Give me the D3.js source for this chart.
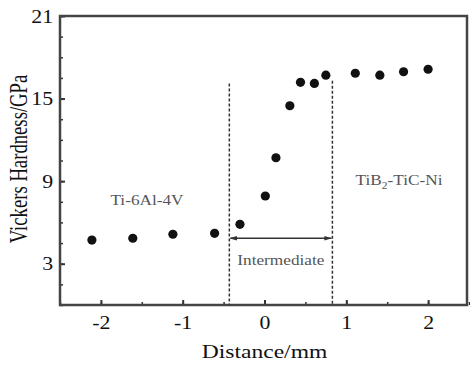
<!DOCTYPE html>
<html>
<head>
<meta charset="utf-8">
<script src="https://cdn.jsdelivr.net/npm/d3@7"></script>
<style>
  body { margin: 0; background: #fff; }
  text { font-family: "Liberation Serif", "DejaVu Serif", serif; }
</style>
</head>
<body>
<script>
// values
const distance = [-2.11, -1.61, -1.12, -0.61, -0.30, 0.01, 0.14, 0.31, 0.44, 0.61, 0.75, 1.11, 1.41, 1.70, 2.00]
const hardness = [4.72, 4.85, 5.14, 5.21, 5.86, 7.92, 10.7, 14.48, 16.18, 16.1, 16.7, 16.84, 16.7, 16.95, 17.13]
const xTicks = [-2, -1, 0, 1, 2]
const yTicks = [3, 9, 15, 21]
const zoneEdges = [-0.43, 0.83]
const zoneTop = [16.1, 16.3]
const arrowLevel = 4.85

const width = 470, height = 367
const margin = { top: 16, right: 2, bottom: 62, left: 60 }
const stretch = 1.15 // the reference's type is a bit wide

const svg = d3.select("body").append("svg")
  .attr("width", width)
  .attr("height", height)

const x = d3.scaleLinear().domain([-2.5, 2.5]).range([margin.left, width - margin.right + 1])
const y = d3.scaleLinear().domain([0, 21]).range([height - margin.bottom, margin.top])

const defs = svg.append("defs")
defs.append("marker")
  .attr("id", "arr")
  .attr("viewBox", "0 0 10 10")
  .attr("refX", 9).attr("refY", 5)
  .attr("markerWidth", 6).attr("markerHeight", 6)
  .attr("orient", "auto-start-reverse")
  .append("path").attr("d", "M0,2 L10,5 L0,8 Z").attr("fill", "#333")

// minor ticks (inward)
const xMinor = d3.range(-2.5, 2.51, 0.5)
const yMinor = d3.range(0, 21.01, 1.5)

const bottomAxis = svg.append("g")
  .attr("transform", `translate(0,${y(0)})`)
  .call(d3.axisBottom(x).tickValues(xMinor).tickSize(-3).tickFormat(""))
bottomAxis.call(g => g.select(".domain").remove())
bottomAxis.selectAll("line").attr("stroke", "#333").attr("stroke-width", 1.5)

const bottomMajor = svg.append("g")
  .attr("transform", `translate(0,${y(0)})`)
  .call(d3.axisBottom(x).tickValues(xTicks).tickSize(-5).tickPadding(10).tickFormat(d => String(d)))
bottomMajor.select(".domain").remove()
bottomMajor.selectAll("line").attr("stroke", "#333").attr("stroke-width", 2)
bottomMajor.selectAll("text").attr("font-size", 19).attr("fill", "#111")
  .attr("font-family", "Liberation Serif, serif").attr("dy", "0.75em")
  .attr("transform", `scale(${stretch},1)`)

const leftAxis = svg.append("g")
  .attr("transform", `translate(${x(-2.5)},0)`)
  .call(d3.axisLeft(y).tickValues(yMinor).tickSize(-3).tickFormat(""))
leftAxis.select(".domain").remove()
leftAxis.selectAll("line").attr("stroke", "#333").attr("stroke-width", 1.5)

const leftMajor = svg.append("g")
  .attr("transform", `translate(${x(-2.5)},0)`)
  .call(d3.axisLeft(y).tickValues(yTicks).tickSize(-5).tickPadding(6))
leftMajor.select(".domain").remove()
leftMajor.selectAll("line").attr("stroke", "#333").attr("stroke-width", 2)
leftMajor.selectAll("text").attr("font-size", 19).attr("fill", "#111")
  .attr("font-family", "Liberation Serif, serif")
  .attr("transform", `scale(${stretch},1)`)

// frame
svg.append("rect")
  .attr("x", x(-2.5)).attr("y", y(21))
  .attr("width", x(2.5) - x(-2.5) - 2).attr("height", y(0) - y(21))
  .attr("fill", "none").attr("stroke", "#444").attr("stroke-width", 2.5)

// zone boundaries
svg.selectAll(".zone").data(zoneEdges).join("line")
  .attr("x1", d => x(d)).attr("x2", d => x(d))
  .attr("y1", (d, i) => y(zoneTop[i])).attr("y2", y(0))
  .attr("stroke", "#333").attr("stroke-width", 1.5)
  .attr("stroke-dasharray", "3,2")

svg.append("line")
  .attr("x1", x(zoneEdges[0]) + 1).attr("x2", x(zoneEdges[1]) - 1)
  .attr("y1", y(arrowLevel)).attr("y2", y(arrowLevel))
  .attr("stroke", "#333").attr("stroke-width", 1.3)
  .attr("marker-start", "url(#arr)").attr("marker-end", "url(#arr)")

// points
svg.selectAll(".pt").data(distance).join("circle")
  .attr("cx", d => x(d))
  .attr("cy", (d, i) => y(hardness[i]))
  .attr("r", 4.6)
  .attr("fill", "#111")

// region labels (stretched horizontally around their centre)
function label(cx, cy, size) {
  return svg.append("g").attr("transform", `translate(${cx},${cy}) scale(${stretch},1)`)
    .append("text").attr("text-anchor", "middle").attr("font-size", size).attr("fill", "#555")
}
label(147, 205, 15).text("Ti-6Al-4V")
label((x(zoneEdges[0]) + x(zoneEdges[1])) / 2, 265, 15).text("Intermediate")
const tib = label(399, 185, 15)
tib.append("tspan").text("TiB")
tib.append("tspan").attr("font-size", 10).attr("dy", 4).text("2")
tib.append("tspan").attr("dy", -4).text("-TiC-Ni")

// axis titles
svg.append("g").attr("transform", `translate(${(x(-2.5) + x(2.5)) / 2},358) scale(1.24,1)`)
  .append("text")
  .attr("text-anchor", "middle").attr("font-size", 19).attr("fill", "#111")
  .text("Distance/mm")
svg.append("text")
  .attr("transform", `translate(27,159) scale(1.3,1) rotate(-90)`)
  .attr("text-anchor", "middle").attr("font-size", 18.7).attr("fill", "#111")
  .text("Vickers Hardness/GPa")
</script>
</body>
</html>
